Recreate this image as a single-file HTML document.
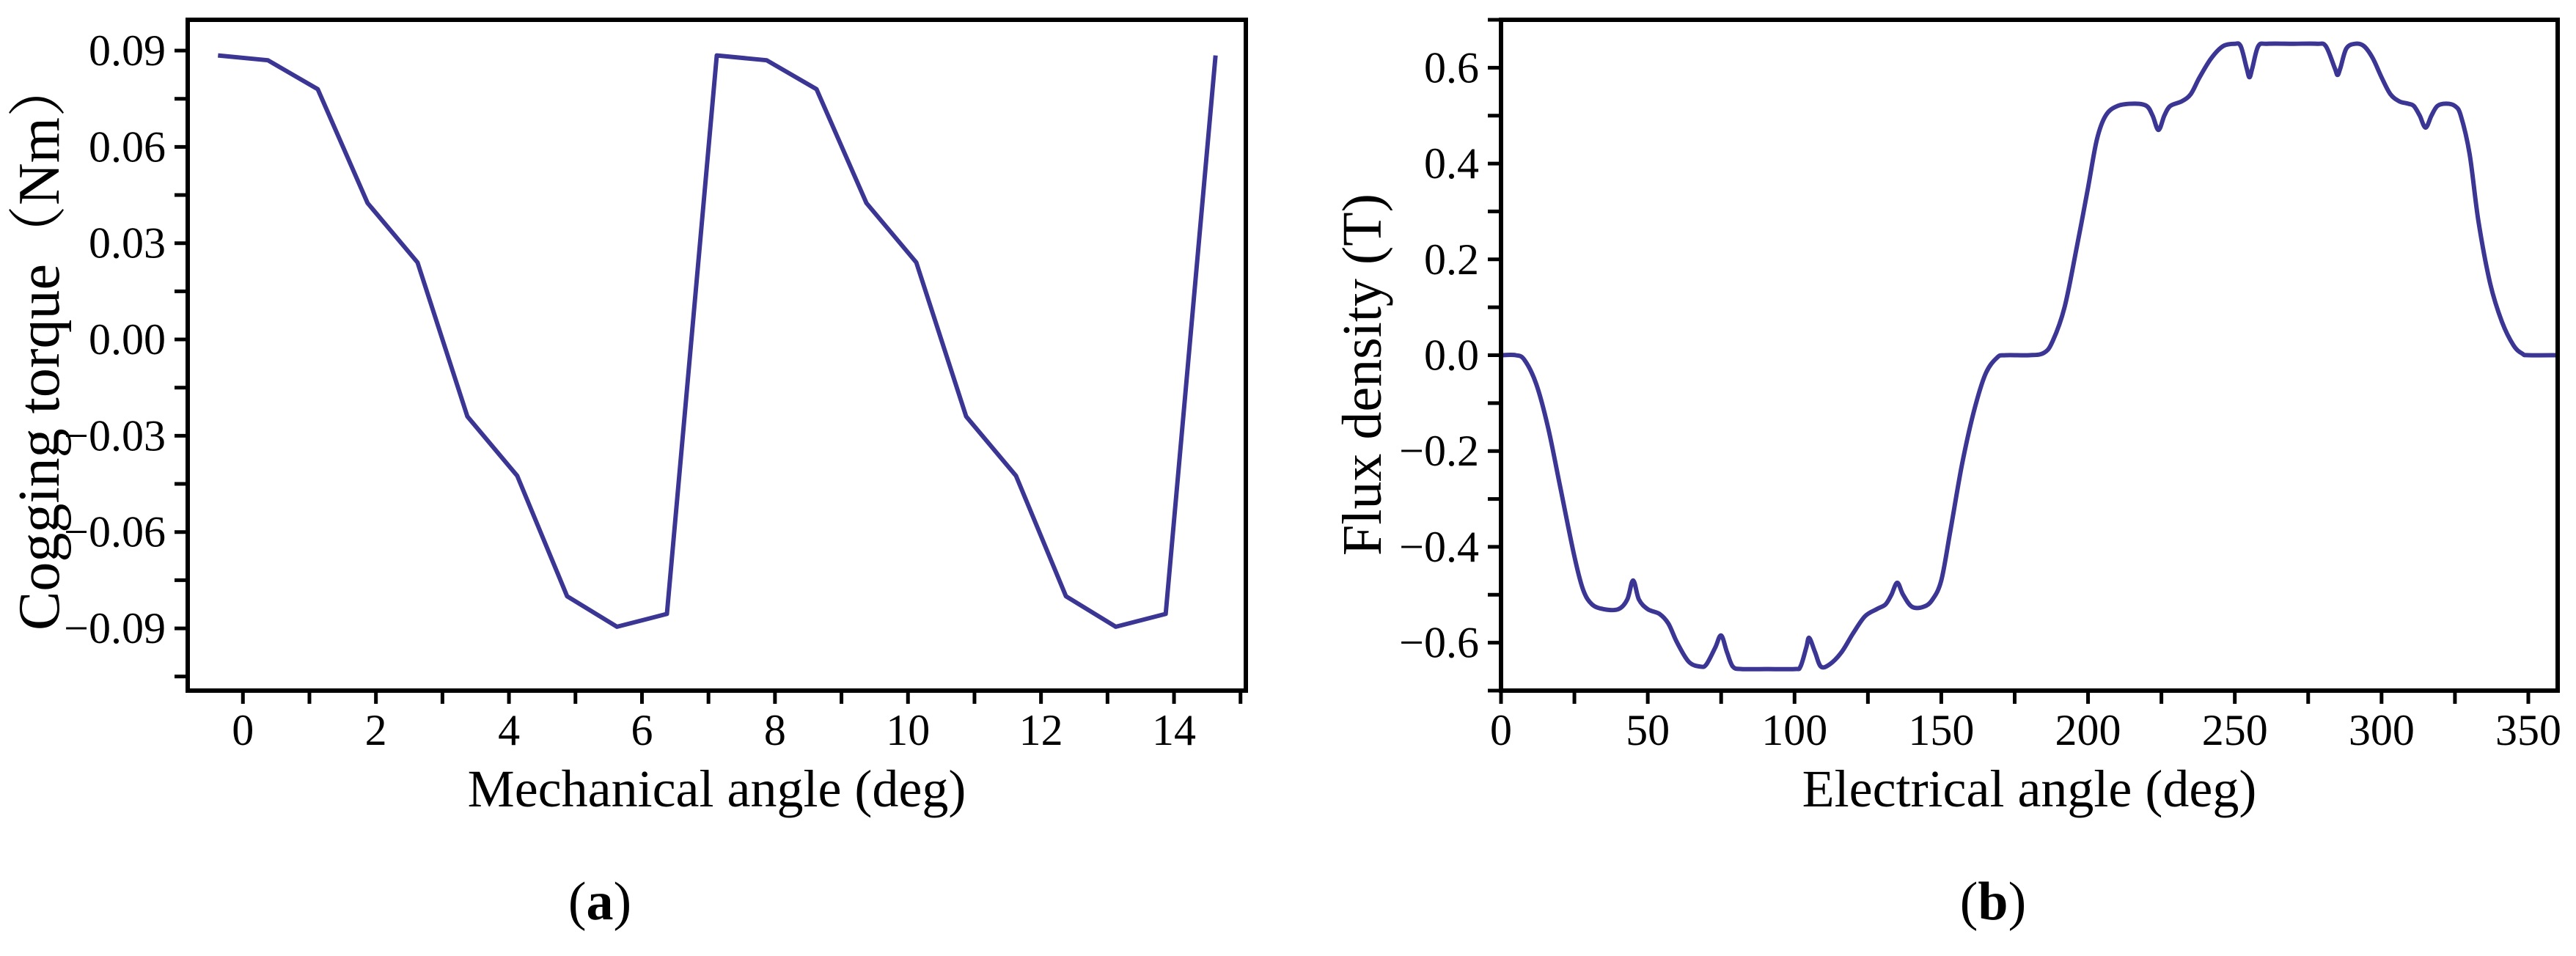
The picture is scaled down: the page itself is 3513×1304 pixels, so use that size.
<!DOCTYPE html>
<html><head><meta charset="utf-8"><style>
html,body{margin:0;padding:0;background:#fff;}
svg{display:block;}
text{font-family:"Liberation Serif","Noto Serif CJK SC",serif;fill:#000;}
</style></head><body>
<svg id="fig" width="3513" height="1304" viewBox="0 0 3513 1304" xmlns="http://www.w3.org/2000/svg">
<g id="pa"></g>
<g id="pb"></g>
<text x="818" y="1254" font-size="74" text-anchor="middle">(<tspan font-weight="bold">a</tspan>)</text>
<text x="2718" y="1254" font-size="74" text-anchor="middle">(<tspan font-weight="bold">b</tspan>)</text>
</svg>
<script>
// Panel a data
const aAngles = [-0.375,0.375,1.125,1.875,2.625,3.375,4.125,4.875,5.625,6.375,7.125,7.875,8.625,9.375,10.125,10.875,11.625,12.375,13.125,13.875,14.625];
const aTorque = [0.0885,0.087,0.078,0.0425,0.024,-0.024,-0.0425,-0.080,-0.0895,-0.0855,0.0885,0.087,0.078,0.0425,0.024,-0.024,-0.0425,-0.080,-0.0895,-0.0855,0.0885];
const aXTicks = [0,2,4,6,8,10,12,14];
const aYTicks = [0.09,0.06,0.03,0.00,-0.03,-0.06,-0.09];
const aYTickLabels = ["0.09","0.06","0.03","0.00","\u22120.03","\u22120.06","\u22120.09"];
// Panel b data
const bAngles = [0,5,8,12,16,20,25,28,31,35,40,43,45,47,50,54,57,60,64,68,70,73,75,77,79,82,90,100,102,104,105,107,109,112,116,120,124,128,131,133,135,137,140,144,147,150,153,157,161,165,169,172,180,185,188,192,196,200,203,206,210,216,220,222,224,226,228,232,235,238,242,246,250,252,254,255,256,258,261,270,278,281,284,285,286,288,291,294,297,300,303,306,309,311,313,315,317,319,322,325,327,330,333,337,341,345,348,350,360];
const bFlux = [0,0,-0.01,-0.06,-0.15,-0.27,-0.42,-0.49,-0.52,-0.53,-0.53,-0.51,-0.47,-0.51,-0.53,-0.54,-0.56,-0.6,-0.64,-0.65,-0.645,-0.61,-0.585,-0.62,-0.65,-0.655,-0.655,-0.655,-0.65,-0.61,-0.59,-0.62,-0.65,-0.645,-0.62,-0.58,-0.545,-0.53,-0.52,-0.5,-0.475,-0.5,-0.525,-0.525,-0.51,-0.47,-0.37,-0.23,-0.12,-0.04,-0.005,0,0,0.005,0.03,0.1,0.22,0.35,0.45,0.5,0.52,0.525,0.52,0.5,0.47,0.5,0.52,0.53,0.545,0.58,0.62,0.645,0.65,0.645,0.6,0.58,0.6,0.645,0.65,0.65,0.65,0.645,0.6,0.585,0.6,0.64,0.65,0.645,0.62,0.58,0.545,0.53,0.525,0.52,0.5,0.475,0.5,0.52,0.525,0.52,0.5,0.42,0.28,0.15,0.07,0.02,0.003,0,0];
const bXTicks = [0,50,100,150,200,250,300,350];
const bYTicks = [0.6,0.4,0.2,0.0,-0.2,-0.4,-0.6];
const bYTickLabels = ["0.6","0.4","0.2","0.0","\u22120.2","\u22120.4","\u22120.6"];

const NS="http://www.w3.org/2000/svg";
function mk(parent,tag,attrs){const e=document.createElementNS(NS,tag);for(const k in attrs)e.setAttribute(k,attrs[k]);parent.appendChild(e);return e;}

function drawPanel(g,cfg){
  const sx=v=>cfg.L+(v-cfg.x0)/(cfg.x1-cfg.x0)*(cfg.R-cfg.L);
  const sy=v=>cfg.B-(v-cfg.y0)/(cfg.y1-cfg.y0)*(cfg.B-cfg.T);
  for(let i=0;i<cfg.xMinor.length;i++){
    const t=mk(g,'line',{x1:sx(cfg.xMinor[i]),x2:sx(cfg.xMinor[i]),y1:cfg.B,y2:cfg.B+18,stroke:'#000','stroke-width':5});
    
    
  }
  for(let i=0;i<cfg.yMinor.length;i++){
    const t=mk(g,'line',{x1:cfg.L-18,x2:cfg.L,y1:sy(cfg.yMinor[i]),y2:sy(cfg.yMinor[i]),stroke:'#000','stroke-width':5});
    
    
  }
  for(let i=0;i<cfg.xTicks.length;i++){
    const x=sx(cfg.xTicks[i]);
    const t=mk(g,'line',{x1:x,x2:x,y1:cfg.B,y2:cfg.B+18,stroke:'#000','stroke-width':5});
    
    
    const l=mk(g,'text',{x:x,y:cfg.B+74,'font-size':60,'text-anchor':'middle'});
    l.textContent=String(cfg.xTicks[i]);
    
    
  }
  for(let i=0;i<cfg.yTicks.length;i++){
    const y=sy(cfg.yTicks[i]);
    const t=mk(g,'line',{x1:cfg.L-18,x2:cfg.L,y1:y,y2:y,stroke:'#000','stroke-width':5});
    
    
    const l=mk(g,'text',{x:cfg.L-30,y:y+20,'font-size':60,'text-anchor':'end'});
    l.textContent=cfg.yLabels[i];
    
    
  }
  let d='';
  if(cfg.smooth){
    const P=cfg.xs.map((v,i)=>[sx(v),sy(cfg.ys[i])]);
    d='M'+P[0][0]+','+P[0][1];
    for(let i=0;i<P.length-1;i++){
      const p0=P[Math.max(0,i-1)],p1=P[i],p2=P[i+1],p3=P[Math.min(P.length-1,i+2)];
      const c1=[p1[0]+(p2[0]-p0[0])/6,p1[1]+(p2[1]-p0[1])/6];
      const c2=[p2[0]-(p3[0]-p1[0])/6,p2[1]-(p3[1]-p1[1])/6];
      d+=' C'+c1[0].toFixed(1)+','+c1[1].toFixed(1)+' '+c2[0].toFixed(1)+','+c2[1].toFixed(1)+' '+p2[0].toFixed(1)+','+p2[1].toFixed(1);
    }
  } else {
    d=cfg.xs.map((v,i)=>(i?'L':'M')+sx(v).toFixed(1)+','+sy(cfg.ys[i]).toFixed(1)).join(' ');
  }
  const p=mk(g,'path',{d:d,fill:'none',stroke:'#3b3594','stroke-width':6,'stroke-linejoin':'round'});
  
  
  const f=mk(g,'rect',{x:cfg.L,y:cfg.T,width:cfg.R-cfg.L,height:cfg.B-cfg.T,fill:'none',stroke:'#000','stroke-width':6});
  
  
  const xt=mk(g,'text',{x:(cfg.L+cfg.R)/2,y:1100,'font-size':72,'text-anchor':'middle'});
  xt.textContent=cfg.xTitle;
  
  
  const yt=mk(g,'text',{x:0,y:0,'font-size':cfg.yTitleSize,'text-anchor':'middle',transform:'translate('+cfg.yTitleX+','+cfg.yTitleY+') rotate(-90)'});
  yt.textContent=cfg.yTitle;
  
  
}
const aXMinor=[], aYMinor=[], bXMinor=[], bYMinor=[];
for(let v=-1;v<=15;v+=2) aXMinor.push(v);
for(let v=-0.105;v<0.1;v+=0.03) aYMinor.push(v);
for(let v=25;v<=375;v+=50) if(v<360) bXMinor.push(v);
for(let v=-0.7;v<=0.71;v+=0.2) bYMinor.push(v);
drawPanel(document.getElementById('pa'),{L:256,R:1699,T:27,B:942,x0:-0.83,x1:15.08,y0:-0.1094,y1:0.0996,
  xs:aAngles,ys:aTorque,xTicks:aXTicks,yTicks:aYTicks,yLabels:aYTickLabels,xMinor:aXMinor.filter(v=>v>-0.83&&v<15.08),yMinor:aYMinor,
  xTitle:'Mechanical angle (deg)',yTitle:'Cogging torque（Nm）',yTitleX:80,yTitleY:470,yTitleSize:80,smooth:false});
drawPanel(document.getElementById('pb'),{L:2047,R:3488,T:27,B:942,x0:0,x1:360,y0:-0.7,y1:0.7,
  xs:bAngles,ys:bFlux,xTicks:bXTicks,yTicks:bYTicks,yLabels:bYTickLabels,xMinor:bXMinor,yMinor:bYMinor,
  xTitle:'Electrical angle (deg)',yTitle:'Flux density (T)',yTitleX:1883,yTitleY:511,yTitleSize:76,smooth:true});
</script>
</body></html>
